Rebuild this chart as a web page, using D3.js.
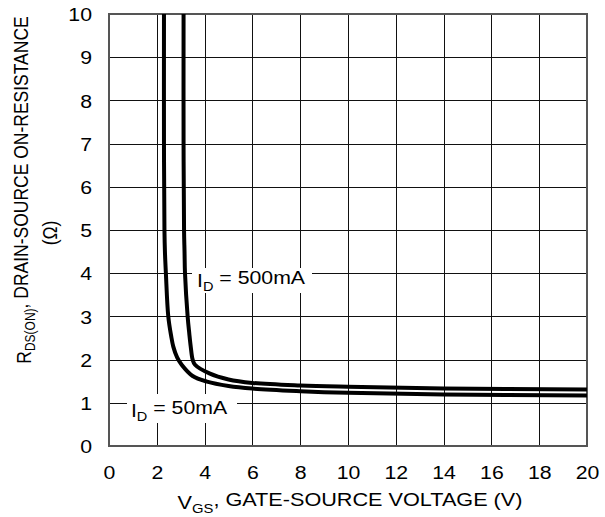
<!DOCTYPE html>
<html><head><meta charset="utf-8">
<script src="https://cdn.jsdelivr.net/npm/d3@7"></script>
<style>
body{margin:0;background:#fff;}
text{font-family:"Liberation Sans",Arial,sans-serif;fill:#000;}
</style></head>
<body><svg id="chart" width="605" height="517"></svg>
<script>
const xTicks = [0,2,4,6,8,10,12,14,16,18,20];
const yTicks = [0,1,2,3,4,5,6,7,8,9,10];
const seriesNames = ["ID = 50mA","ID = 500mA"];
const vgs50  = [2.30,2.30,2.32,2.34,2.38,2.48,2.60,2.69,2.85,3.04,3.5,4.1,5,6,8,10,14,20];
const rds50  = [10,7,5,4.5,4,3,2.55,2.3,2.05,1.88,1.62,1.49,1.39,1.33,1.27,1.23,1.19,1.17];
const vgs500 = [3.12,3.12,3.14,3.16,3.18,3.29,3.36,3.42,3.5,3.6,4.2,5,6,8,10,14,20];
const rds500 = [10,7,5,4.5,4,3,2.6,2.3,2.0,1.88,1.68,1.54,1.46,1.40,1.37,1.33,1.31];

const svg = d3.select("#chart");
const L=109, R=587, T=14, B=446;
const x = d3.scaleLinear().domain([0,20]).range([L,R]);
const y = d3.scaleLinear().domain([0,10]).range([B,T]);
const fs = 19, sx = 1.12;

// grid
const g = svg.append("g");
g.selectAll(".vg").data(xTicks.slice(1,-1)).enter().append("line")
 .attr("x1",d=>Math.round(x(d))+0.5).attr("x2",d=>Math.round(x(d))+0.5)
 .attr("y1",T).attr("y2",B).attr("stroke","#111").attr("stroke-width",1);
g.selectAll(".hg").data(yTicks.slice(1,-1)).enter().append("line")
 .attr("y1",d=>Math.round(y(d))+0.5).attr("y2",d=>Math.round(y(d))+0.5)
 .attr("x1",L).attr("x2",R).attr("stroke","#111").attr("stroke-width",1);

// axes (tick labels)
const xAxis = d3.axisBottom(x).tickValues(xTicks).tickSize(0).tickPadding(0).tickFormat(d3.format("d"));
const xa = svg.append("g").attr("transform",`translate(0,${B})`).call(xAxis);
xa.select(".domain").remove();
xa.selectAll("text").attr("dy",null).attr("y",33).attr("transform",`scale(${sx},1)`)
  .style("font-size",fs+"px").style("font-family","Liberation Sans, Arial, sans-serif");
const yAxis = d3.axisLeft(y).tickValues(yTicks).tickSize(0).tickPadding(0).tickFormat(d3.format("d"));
const ya = svg.append("g").attr("transform",`translate(${L},0)`).call(yAxis);
ya.select(".domain").remove();
ya.selectAll("text").attr("x",-17/sx).attr("dy","0.35em").attr("transform",`scale(${sx},1)`)
  .style("font-size",fs+"px").style("font-family","Liberation Sans, Arial, sans-serif");

// frame
svg.append("rect").attr("x",L).attr("y",T).attr("width",R-L).attr("height",B-T)
 .attr("fill","none").attr("stroke","#555").attr("stroke-width",2);

// curves
const line = d3.line().x(d=>x(d[0])).y(d=>y(d[1])).curve(d3.curveCatmullRom.alpha(0.5));
const c50 = vgs50.map((v,i)=>[v,rds50[i]]);
const c500 = vgs500.map((v,i)=>[v,rds500[i]]);
svg.append("defs").append("clipPath").attr("id","clip").append("rect")
 .attr("x",L).attr("y",T).attr("width",R-L).attr("height",B-T);
[c50,c500].forEach(c=>{
 svg.append("path").datum(c).attr("d",line).attr("fill","none")
  .attr("stroke","#000").attr("stroke-width",4).attr("clip-path","url(#clip)");
});

// labels with white boxes
function label(cx, cy, main, sub, rest, bx0, bx1, by0, by1){
  svg.append("rect").attr("x",bx0).attr("y",by0).attr("width",bx1-bx0).attr("height",by1-by0).attr("fill","#fff");
  const t = svg.append("text").attr("transform",`translate(${cx},${cy}) scale(${sx},1)`).attr("text-anchor","middle")
    .attr("dy","0.35em").style("font-size",fs+"px");
  t.append("tspan").text(main);
  t.append("tspan").attr("dy","0.3em").style("font-size","13px").text(sub);
  t.append("tspan").attr("dy","-0.35em").text(rest);
}
label(251, 280, "I", "D", " = 500mA", 192, 312, 268, 293);
label(179, 410, "I", "D", " = 50mA", 127, 237, 394, 423);

// axis titles
const xt = svg.append("text").attr("transform",`translate(350,509) scale(${sx+0.02},1)`).attr("text-anchor","middle").style("font-size",fs+"px");
xt.append("tspan").text("V");
xt.append("tspan").attr("dy","0.3em").style("font-size","13px").text("GS");
xt.append("tspan").attr("dy","-0.35em").text(", GATE-SOURCE VOLTAGE (V)");

const yt = svg.append("text").attr("transform","translate(31,190) scale(1.15,1) rotate(-90)").attr("text-anchor","middle").style("font-size","17.5px");
yt.append("tspan").text("R");
yt.append("tspan").attr("dy","0.3em").style("font-size","12px").text("DS(ON)");
yt.append("tspan").attr("dy","-0.35em").text(", DRAIN-SOURCE ON-RESISTANCE");
svg.append("text").attr("transform","translate(57,233) scale(1.15,1) rotate(-90)").attr("text-anchor","middle").style("font-size","17.5px").text("(Ω)");
</script></body></html>
